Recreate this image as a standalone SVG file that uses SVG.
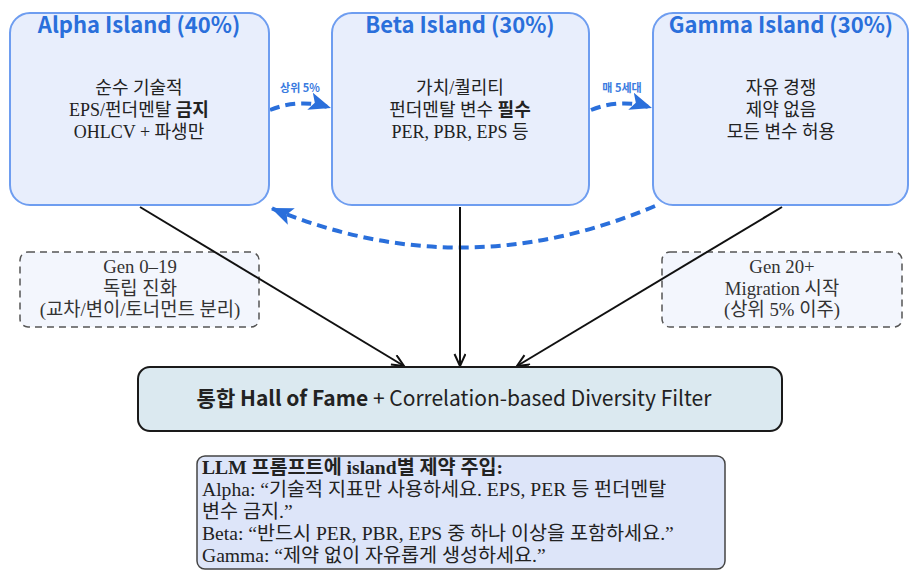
<svg xmlns="http://www.w3.org/2000/svg" width="909" height="570" viewBox="0 0 909 570">
<defs>
<style>
.island{fill:#e8eefc;stroke:#6e9df0;stroke-width:2}
.title{font-family:"Noto Sans CJK KR","Noto Sans",sans-serif;font-weight:bold;font-size:22px;fill:#2a6fdb;text-anchor:middle}
.body{font-family:"Liberation Serif","Noto Sans CJK KR",serif;font-size:18px;fill:#222;text-anchor:middle}
.note{fill:#f3f6fd;stroke:#555;stroke-width:1.5;stroke-dasharray:7 5}
.notetxt{font-family:"Liberation Serif","Noto Sans CJK KR",serif;font-size:18.8px;fill:#333;text-anchor:middle}
.mig{fill:none;stroke:#2a6fdb;stroke-width:4;stroke-dasharray:10 6}
.flow{fill:none;stroke:#111;stroke-width:2}
.lbl{font-family:"Noto Sans CJK KR",sans-serif;font-size:11px;fill:#3a7be0;text-anchor:middle;font-weight:bold}
.hof{fill:#dbe9f0;stroke:#1a1a1a;stroke-width:2}
.hoftxt{font-family:"Noto Sans CJK KR","Noto Sans",sans-serif;font-size:21px;fill:#222;text-anchor:middle}
.prompt{fill:#dde5f9;stroke:#444;stroke-width:1.5}
.ptxt{font-family:"Liberation Serif","Noto Sans CJK KR",serif;font-size:19.6px;fill:#222}
</style>
<marker id="bluehead" markerUnits="userSpaceOnUse" markerWidth="26" markerHeight="20" refX="22" refY="9" orient="auto">
<path d="M0,0 L22,9 L0,18 L5,9 Z" fill="#2a6fdb"/>
</marker>
<marker id="blackhead" markerUnits="userSpaceOnUse" markerWidth="16" markerHeight="14" refX="13" refY="6" orient="auto">
<path d="M1,0.5 L13,6 L1,11.5" fill="none" stroke="#111" stroke-width="2"/>
</marker>
</defs>

<g id="note-left">
<rect class="note" x="20" y="252" width="239" height="75" rx="8"/>
<text class="notetxt" x="140" y="273">Gen 0–19</text>
<text class="notetxt" x="140" y="295">독립 진화</text>
<text class="notetxt" x="140" y="316">(교차/변이/토너먼트 분리)</text>
</g>

<g id="note-right">
<rect class="note" x="662" y="252" width="240" height="75" rx="8"/>
<text class="notetxt" x="782" y="273">Gen 20+</text>
<text class="notetxt" x="782" y="295">Migration 시작</text>
<text class="notetxt" x="782" y="316">(상위 5% 이주)</text>
</g>

<g id="connectors">
<path class="mig" d="M270,110 Q300,98 331,108" marker-end="url(#bluehead)"/>
<path class="mig" d="M591,110 Q621,98 652,108" marker-end="url(#bluehead)"/>
<path class="mig" d="M655,206 Q462,288 271,208" marker-end="url(#bluehead)"/>
<path class="flow" d="M140,207 L404,366" marker-end="url(#blackhead)"/>
<path class="flow" d="M460,207 L460,366" marker-end="url(#blackhead)"/>
<path class="flow" d="M782,207 L517,366" marker-end="url(#blackhead)"/>
<text class="lbl" x="300" y="92">상위 5%</text>
<text class="lbl" x="622" y="92">매 5세대</text>
</g>

<g id="alpha">
<rect class="island" x="10" y="13" width="259" height="192" rx="20"/>
<text class="title" x="139" y="33">Alpha Island (40%)</text>
<text class="body" x="139" y="94">순수 기술적</text>
<text class="body" x="139" y="116">EPS/펀더멘탈 <tspan font-weight="bold">금지</tspan></text>
<text class="body" x="139" y="138">OHLCV + 파생만</text>
</g>

<g id="beta">
<rect class="island" x="332" y="13" width="257" height="192" rx="20"/>
<text class="title" x="460" y="33">Beta Island (30%)</text>
<text class="body" x="460" y="94">가치/퀄리티</text>
<text class="body" x="460" y="116">펀더멘탈 변수 <tspan font-weight="bold">필수</tspan></text>
<text class="body" x="460" y="138">PER, PBR, EPS 등</text>
</g>

<g id="gamma">
<rect class="island" x="653" y="13" width="255" height="192" rx="20"/>
<text class="title" x="781" y="33">Gamma Island (30%)</text>
<text class="body" x="781" y="94">자유 경쟁</text>
<text class="body" x="781" y="116">제약 없음</text>
<text class="body" x="781" y="138">모든 변수 허용</text>
</g>

<g id="hof">
<rect class="hof" x="138" y="367" width="644" height="64" rx="12"/>
<text class="hoftxt" x="454" y="406"><tspan font-weight="bold">통합 Hall of Fame</tspan> + Correlation-based Diversity Filter</text>
</g>

<g id="prompt">
<rect class="prompt" x="197" y="456" width="528" height="113" rx="8"/>
<text class="ptxt" x="202" y="474" font-weight="bold">LLM 프롬프트에 island별 제약 주입:</text>
<text class="ptxt" x="202" y="496">Alpha: “기술적 지표만 사용하세요.  EPS, PER 등 펀더멘탈</text>
<text class="ptxt" x="202" y="518">변수 금지.”</text>
<text class="ptxt" x="202" y="540">Beta: “반드시 PER, PBR, EPS 중 하나 이상을 포함하세요.”</text>
<text class="ptxt" x="202" y="562">Gamma: “제약 없이 자유롭게 생성하세요.”</text>
</g>
</svg>
